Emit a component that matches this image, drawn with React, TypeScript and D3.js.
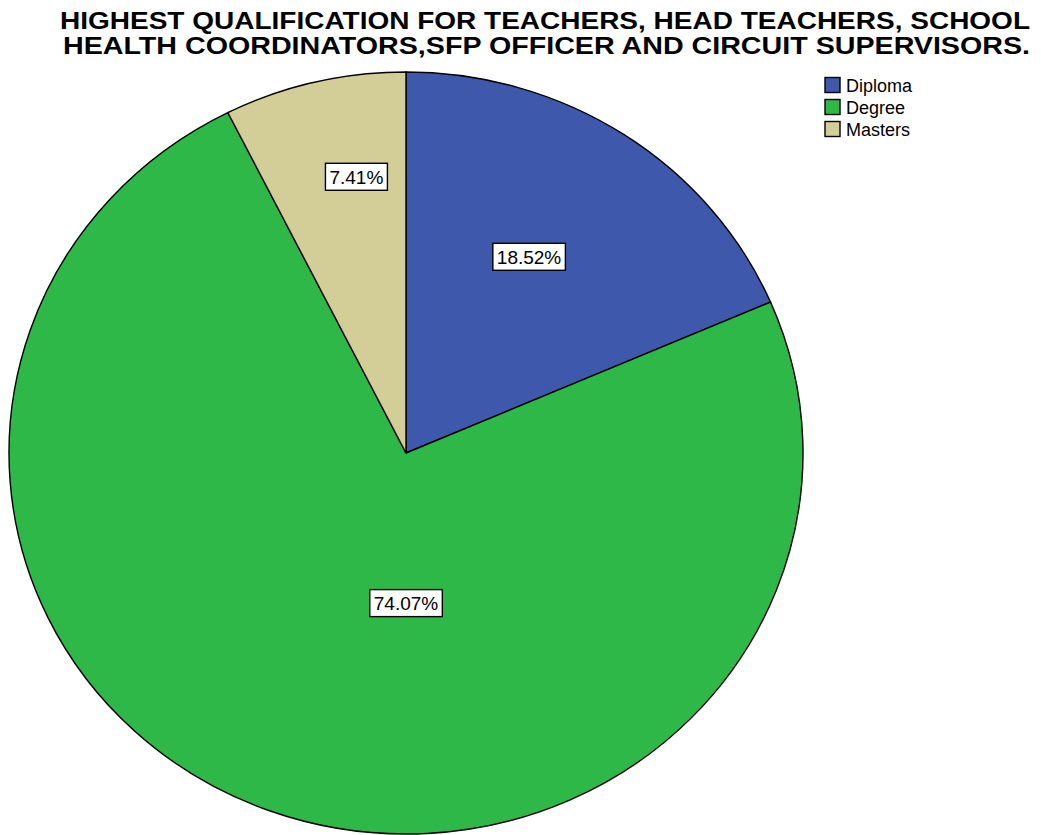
import React, { useEffect, useRef } from "react";
import * as d3 from "d3";

const categories = ["Diploma", "Degree", "Masters"];
const counts = [5, 20, 2];
const colors = ["#3E58AC", "#2EB848", "#D3CE97"];
const titleLines = [
  "HIGHEST QUALIFICATION FOR TEACHERS, HEAD TEACHERS, SCHOOL",
  "HEALTH COORDINATORS,SFP OFFICER AND CIRCUIT SUPERVISORS.",
];
// label anchor offsets from pie centre, as fraction of radii (layout only)
const labelFrac = [
  [0.31, -0.515],
  [0.0, 0.394],
  [-0.125, -0.725],
];

export default function App() {
  const ref = useRef<SVGSVGElement>(null);
  useEffect(() => {
    const W = 1041, H = 835;
    const svg = d3.select(ref.current);
    svg.selectAll("*").remove();
    svg.attr("width", W).attr("height", H);
    const font = "'Liberation Sans', Arial, sans-serif";

    svg.append("rect").attr("width", W).attr("height", H).attr("fill", "#fff");

    const titleW = [970, 967];
    titleLines.forEach((l, i) => {
      svg.append("text")
        .attr("x", 1030 - titleW[i])
        .attr("y", 28.5 + i * 25)
        .attr("font-family", font)
        .attr("font-weight", "bold")
        .attr("font-size", 24)
        .attr("textLength", titleW[i])
        .attr("lengthAdjust", "spacingAndGlyphs")
        .attr("fill", "#000")
        .text(l);
    });

    const cx = 406, cy = 453, rx = 397, ry = 381;
    const total = d3.sum(counts);
    const pie = d3.pie<number>().sort(null).value((d) => d);
    const arcs = pie(counts);
    const arc = d3.arc<d3.PieArcDatum<number>>().innerRadius(0).outerRadius(rx);
    const g = svg.append("g").attr("transform", `translate(${cx},${cy}) scale(1,${ry / rx})`);
    g.selectAll("path")
      .data(arcs)
      .join("path")
      .attr("d", arc as any)
      .attr("fill", (_, i) => colors[i])
      .attr("stroke", "#000")
      .attr("stroke-width", 1.4)
      .attr("vector-effect", "non-scaling-stroke");

    const fmt = d3.format(".2f");
    arcs.forEach((a, i) => {
      const lx = cx + labelFrac[i][0] * rx;
      const ly = cy + labelFrac[i][1] * ry;
      const txt = fmt((a.value / total) * 100) + "%";
      const lg = svg.append("g");
      const te = lg.append("text")
        .attr("x", lx)
        .attr("y", ly + 7)
        .attr("text-anchor", "middle")
        .attr("font-family", font)
        .attr("font-size", 19)
        .attr("fill", "#000")
        .text(txt);
      const bb = (te.node() as SVGTextElement).getBBox();
      lg.insert("rect", "text")
        .attr("x", bb.x - 4)
        .attr("y", ly - 13.5)
        .attr("width", bb.width + 8)
        .attr("height", 27)
        .attr("fill", "#fff")
        .attr("stroke", "#000")
        .attr("stroke-width", 1.4);
    });

    const leg = svg.append("g");
    categories.forEach((c, i) => {
      const y = 85 + i * 22;
      leg.append("rect")
        .attr("x", 825)
        .attr("y", y - 7.5)
        .attr("width", 15)
        .attr("height", 15)
        .attr("fill", colors[i])
        .attr("stroke", "#000")
        .attr("stroke-width", 1.4);
      leg.append("text")
        .attr("x", 846)
        .attr("y", y + 6.5)
        .attr("font-family", font)
        .attr("font-size", 18)
        .attr("fill", "#000")
        .text(c);
    });
  }, []);
  return <svg ref={ref} style={{ position: "absolute", left: 0, top: 0 }} />;
}
